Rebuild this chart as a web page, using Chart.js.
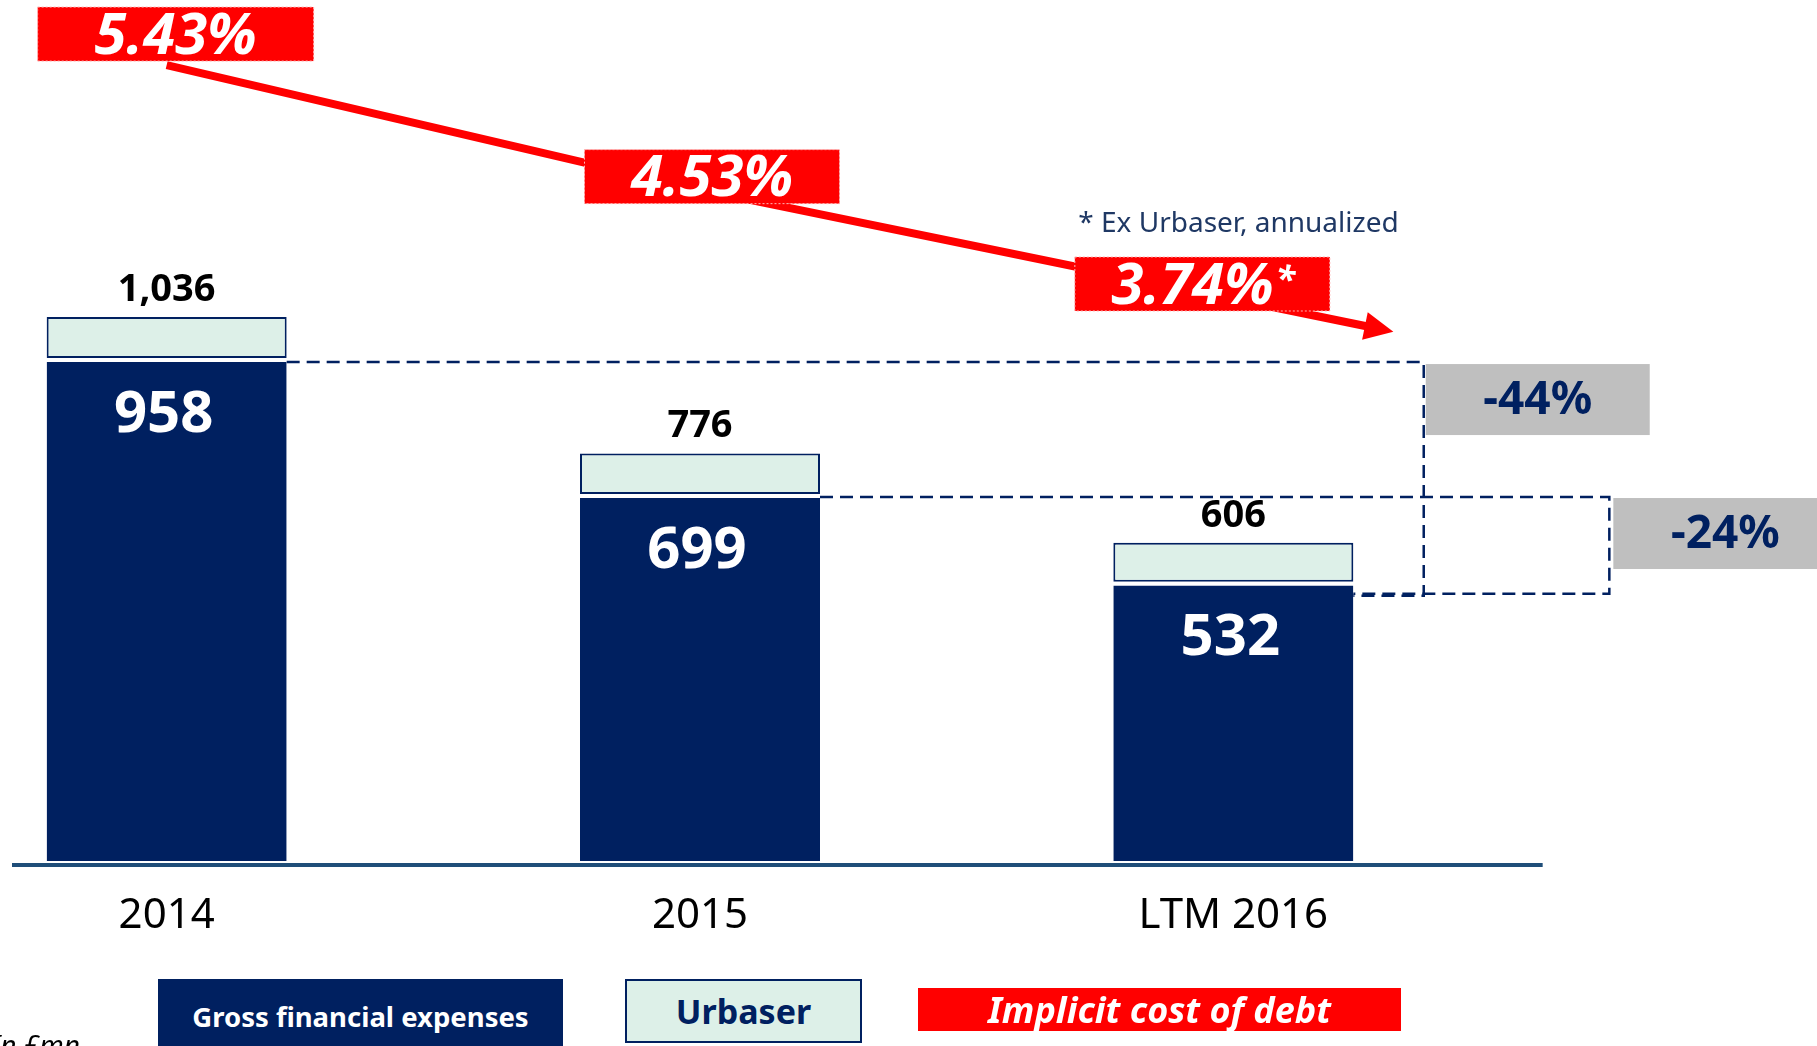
<!DOCTYPE html>
<html>
<head>
<meta charset="utf-8">
<script src="https://cdn.jsdelivr.net/npm/chart.js@4.4.0/dist/chart.umd.min.js"></script>
<style>
  html, body { margin: 0; padding: 0; background: #fff; overflow: hidden; }
  #wrap { position: relative; width: 1817px; height: 1046px; overflow: hidden; }
  #chart { position: absolute; left: -100px; top: 0; }
  .lg { position: absolute; display: flex; align-items: center; justify-content: center;
        box-sizing: border-box; font-family: 'Noto Sans', sans-serif; font-weight: bold; white-space: nowrap; }
  #lg0 { left: 158px; top: 979px; width: 405px; height: 74px; font-size: 27.5px; }
  #lg1 { left: 625px; top: 979px; width: 237px; height: 64px; font-size: 34px; border: 2px solid #002060; }
  #lg2 { left: 918px; top: 988px; width: 483px; height: 43px; font-size: 36px; font-style: italic; }
  #unit { position: absolute; right: 1737px; top: 1030px; font: italic 28px/1 'Noto Sans', sans-serif; color: #000; white-space: nowrap; }
</style>
</head>
<body>
<div id="wrap">
  <canvas id="chart" width="1917" height="1046"></canvas>
  <div class="lg" id="lg0"></div>
  <div class="lg" id="lg1"></div>
  <div class="lg" id="lg2"></div>
  <div id="unit">In £mn</div>
</div>
<script>
'use strict'

// DATA
var years = ['2014', '2015', 'LTM 2016'];
var grossExpenses = [958, 699, 532];
var urbaser = [78, 77, 74];
var costOfDebt = [5.43, 4.53, 3.74];
var costNotes = ['', '', '*'];
var footnote = '* Ex Urbaser, annualized';

var NAVY = '#002060', MINT = '#DDF0E8', RED = '#FF0000', GREY = '#BFBFBF', AXIS = '#1F4E79';
var FONT = "'Noto Sans', sans-serif";

// where each cost-of-debt tag sits relative to its point (dx, dy, width)
var tagPlace = [[9, -31, 276], [12, -13, 255], [-31, -15, 255]];

// custom drawing: baseline, value labels, brackets, cost boxes, arrow
var annotations = {
    id: 'annotations',
    afterDatasetsDraw: function (chart) {
        var ctx = chart.ctx;
        var x = chart.scales.x, y = chart.scales.y;
        var gross = chart.getDatasetMeta(0).data;
        var urb = chart.getDatasetMeta(1).data;
        var pts = chart.getDatasetMeta(2).data;
        var w = x.getPixelForValue(1) - x.getPixelForValue(0);
        var last = years.length - 1;
        ctx.save();

        // baseline
        ctx.strokeStyle = AXIS;
        ctx.lineWidth = 4;
        ctx.beginPath();
        ctx.moveTo(x.getPixelForValue(0) - 0.29 * w, y.getPixelForValue(0) + 4);
        ctx.lineTo(x.getPixelForValue(last) + 0.58 * w, y.getPixelForValue(0) + 4);
        ctx.stroke();

        // dashed brackets
        var xA = x.getPixelForValue(last) + 0.357 * w;
        var xB = x.getPixelForValue(last) + 0.705 * w;
        var yTop0 = y.getPixelForValue(grossExpenses[0]) + 4;
        var yTop1 = y.getPixelForValue(grossExpenses[1]) + 3;
        var yLow = y.getPixelForValue(grossExpenses[last]) + 12;
        var rEdge = function (b) { return b.x + b.width / 2; };
        ctx.setLineDash([13, 7]);
        ctx.lineWidth = 2.5;
        ctx.strokeStyle = NAVY;
        ctx.beginPath();
        ctx.moveTo(rEdge(gross[0]), yTop0);
        ctx.lineTo(xA, yTop0);
        ctx.lineTo(xA, yLow + 2);
        ctx.lineTo(rEdge(gross[last]), yLow + 2);
        ctx.stroke();
        ctx.beginPath();
        ctx.moveTo(rEdge(gross[1]), yTop1);
        ctx.lineTo(xB, yTop1);
        ctx.lineTo(xB, yLow);
        ctx.lineTo(rEdge(gross[last]), yLow);
        ctx.stroke();
        ctx.setLineDash([]);

        // change boxes
        var chg = function (a, b) { return Math.round((b / a - 1) * 100) + '%'; };
        ctx.textAlign = 'center';
        ctx.textBaseline = 'middle';
        ctx.font = 'bold 46px ' + FONT;
        [[xA + 2, yTop0 + 2, chg(grossExpenses[0], grossExpenses[last])],
         [xB + 4, yTop1 + 1, chg(grossExpenses[1], grossExpenses[last])]].forEach(function (c) {
            ctx.fillStyle = GREY;
            ctx.fillRect(c[0], c[1], 224, 71);
            ctx.fillStyle = NAVY;
            ctx.fillText(c[2], c[0] + 112, c[1] + 37);
        });

        // value labels
        ctx.fillStyle = '#fff';
        ctx.font = 'bold 58px ' + FONT;
        gross.forEach(function (b, i) { ctx.fillText(grossExpenses[i], b.x - 3, b.y + 57); });
        ctx.fillStyle = '#000';
        ctx.font = 'bold 38px ' + FONT;
        urb.forEach(function (b, i) {
            var tot = grossExpenses[i] + urbaser[i];
            ctx.fillText(tot.toLocaleString('en-US'), b.x, b.y - 27);
        });

        // arrow at end of cost line
        var p1 = pts[last - 1], p2 = pts[last];
        var dx = p2.x - p1.x, dy = p2.y - p1.y, len = Math.hypot(dx, dy);
        var ux = dx / len, uy = dy / len;
        var ext = 0.3 * w;
        var tipX = p2.x + ext, tipY = p2.y + ext * dy / dx;
        ctx.strokeStyle = RED;
        ctx.fillStyle = RED;
        ctx.lineWidth = 8;
        ctx.beginPath();
        ctx.moveTo(p2.x, p2.y);
        ctx.lineTo(tipX - ux * 20, tipY - uy * 20);
        ctx.stroke();
        var hl = 29, hw = 14;
        ctx.beginPath();
        ctx.moveTo(tipX, tipY);
        ctx.lineTo(tipX - ux * hl - uy * hw, tipY - uy * hl + ux * hw);
        ctx.lineTo(tipX - ux * hl + uy * hw, tipY - uy * hl - ux * hw);
        ctx.closePath();
        ctx.fill();

        // cost of debt boxes
        pts.forEach(function (p, i) {
            var bw = tagPlace[i][2], bh = 54;
            var cx = p.x + tagPlace[i][0], cy = p.y + tagPlace[i][1];
            ctx.fillStyle = RED;
            ctx.fillRect(cx - bw / 2, cy - bh / 2, bw, bh);
            ctx.setLineDash([2, 2]);
            ctx.lineWidth = 1;
            ctx.strokeStyle = '#ffb3b3';
            ctx.strokeRect(cx - bw / 2, cy - bh / 2, bw, bh);
            ctx.setLineDash([]);
            ctx.fillStyle = '#fff';
            var txt = costOfDebt[i].toFixed(2) + '%';
            ctx.font = 'italic bold 58px ' + FONT;
            var tw = ctx.measureText(txt).width;
            var nw = 0;
            if (costNotes[i]) {
                ctx.font = 'italic bold 36px ' + FONT;
                nw = ctx.measureText(costNotes[i]).width;
            }
            var left = cx - (tw + nw) / 2;
            ctx.textAlign = 'left';
            ctx.font = 'italic bold 58px ' + FONT;
            ctx.fillText(txt, left, cy + 3);
            if (costNotes[i]) {
                ctx.font = 'italic bold 36px ' + FONT;
                ctx.fillText(costNotes[i], left + tw + 2, cy - 2);
            }
            ctx.textAlign = 'center';
        });

        // footnote
        ctx.textAlign = 'left';
        ctx.textBaseline = 'alphabetic';
        ctx.fillStyle = '#1F3864';
        ctx.font = '28px ' + FONT;
        ctx.fillText(footnote, pts[last].x - 155, pts[last].y - 67);

        ctx.restore();
    }
};

var ctx = document.getElementById('chart').getContext('2d');

var chart = new Chart(ctx, {
    type: 'bar',
    data: {
        labels: years,
        datasets: [{
                label: 'Gross financial expenses',
                data: grossExpenses,
                backgroundColor: NAVY,
                borderColor: '#fff',
                borderWidth: { top: 4, right: 0, bottom: 0, left: 0 },
                barPercentage: 0.45,
                categoryPercentage: 1
            },
            {
                label: 'Urbaser',
                data: urbaser,
                backgroundColor: MINT,
                borderColor: NAVY,
                borderWidth: 2,
                borderSkipped: false,
                barPercentage: 0.45,
                categoryPercentage: 1
            },
            {
                type: 'line',
                label: 'Implicit cost of debt',
                data: costOfDebt,
                yAxisID: 'y2',
                borderColor: RED,
                backgroundColor: RED,
                borderWidth: 8,
                pointRadius: 0,
                tension: 0,
                fill: false
            }
        ]
    },
    options: {
        responsive: false,
        animation: false,
        devicePixelRatio: 1,
        layout: { padding: { left: 0, right: 317, top: 0, bottom: 0 } },
        plugins: {
            legend: { display: false },
            tooltip: { enabled: false }
        },
        scales: {
            x: {
                stacked: true,
                offset: true,
                grid: { display: false, drawTicks: false },
                border: { display: false },
                ticks: { color: '#000', padding: 30, font: { family: FONT, size: 42 } },
                afterFit: function (s) { s.height = 185; }
            },
            y: { stacked: true, display: false, min: 0, max: 1640 },
            y2: { display: false, min: -0.32, max: 5.9 }
        }
    },
    plugins: [annotations]
});

// legend boxes built from the datasets
chart.data.datasets.forEach(function (ds, i) {
    var el = document.getElementById('lg' + i);
    el.textContent = ds.label;
    el.style.background = i === 2 ? ds.borderColor : ds.backgroundColor;
    el.style.color = i === 1 ? NAVY : '#fff';
});
</script>
</body>
</html>
